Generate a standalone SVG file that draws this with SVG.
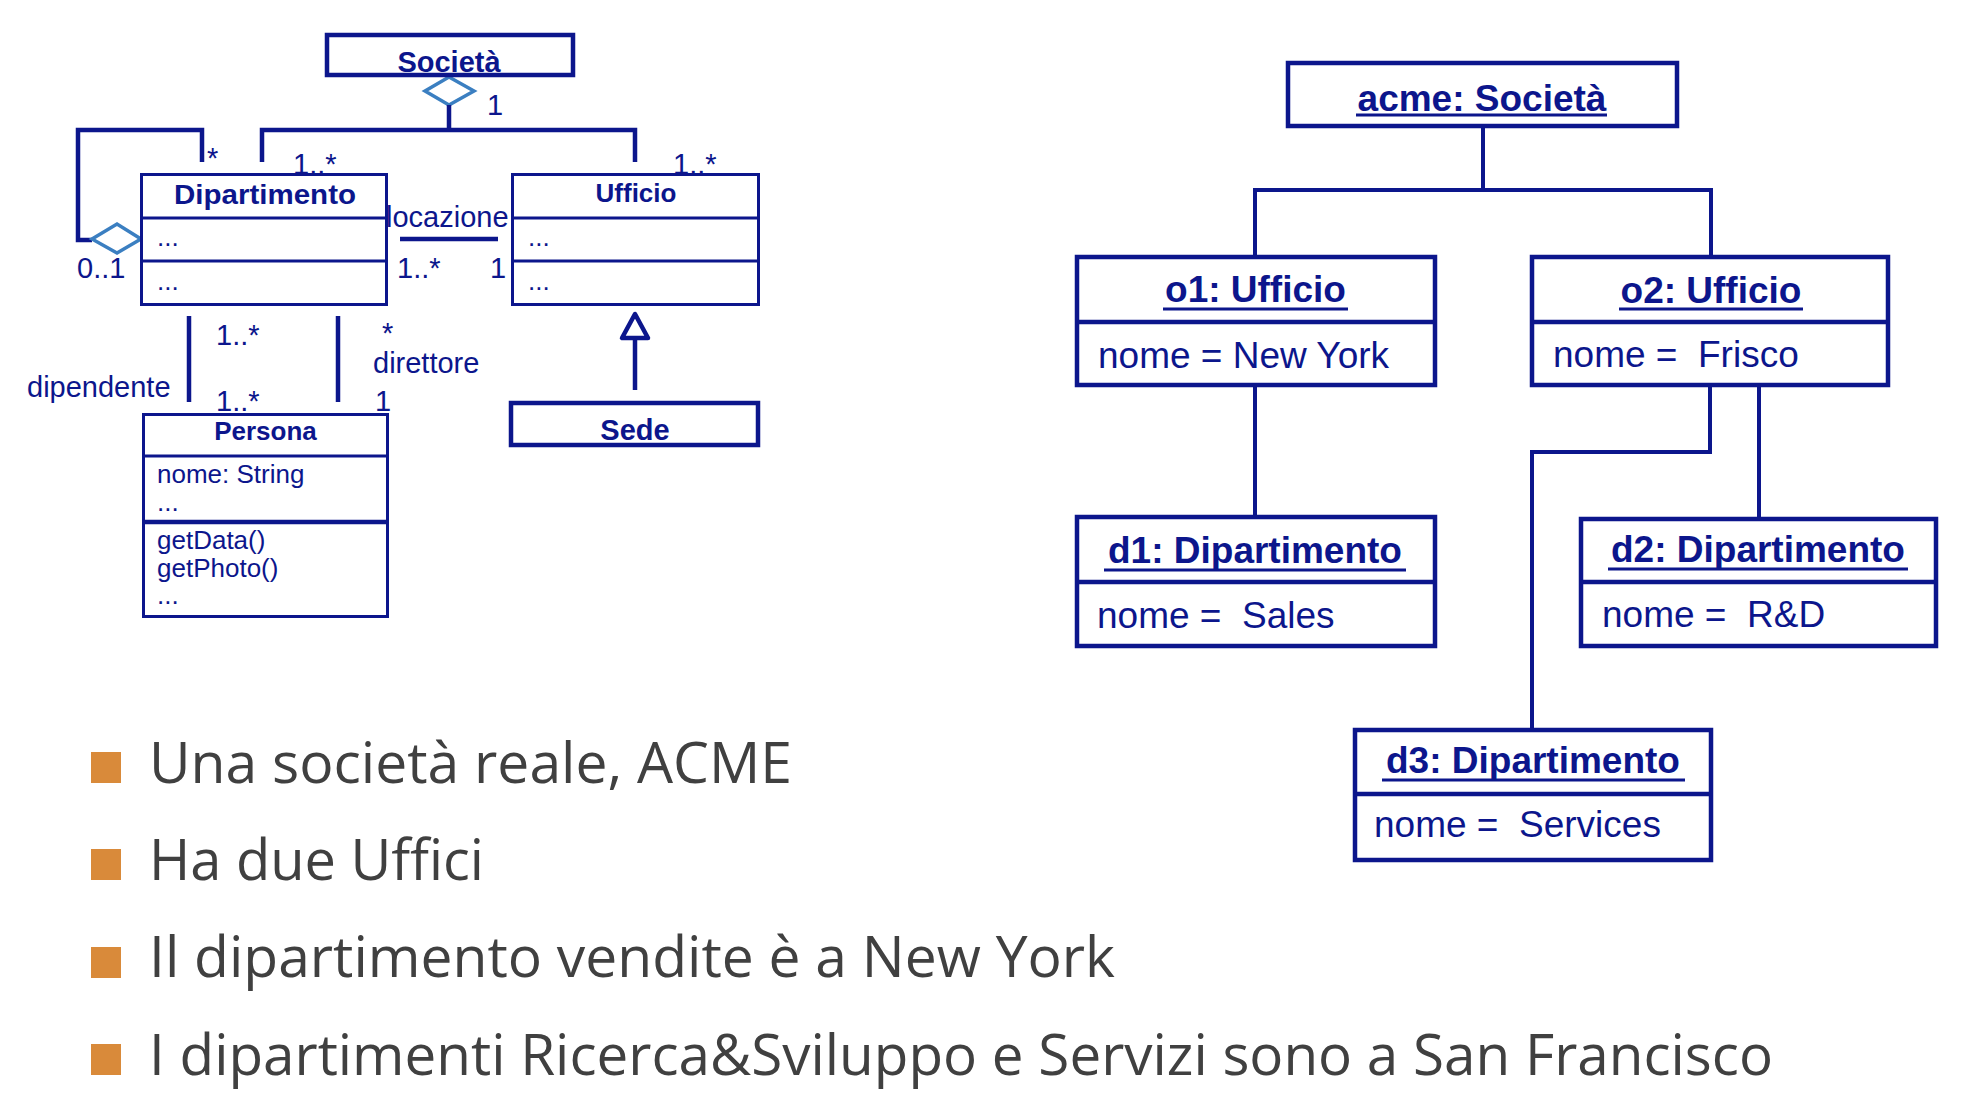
<svg xmlns="http://www.w3.org/2000/svg" width="1986" height="1110" viewBox="0 0 1986 1110">
<style>
.bx{fill:#fff;stroke:#0c168c;stroke-width:3}
.bxt{fill:#fff;stroke:#0c168c;stroke-width:4.5}
.sep{stroke:#0c168c;stroke-width:3}
.sept{stroke:#0c168c;stroke-width:4.5}
.ln{fill:none;stroke:#0c168c;stroke-width:4.5}
.ol{fill:none;stroke:#0c168c;stroke-width:4}
.dia{fill:#fff;stroke:#3b7fc1;stroke-width:3.5}
.ul{stroke:#0c168c;stroke-width:3}
text{font-family:"Liberation Sans",Arial,sans-serif;fill:#0c168c;white-space:pre}
.b{font-weight:bold}
.lab{font-size:29px}
.att{font-size:26px}
.ot{font-size:37px;font-weight:bold}
.oa{font-size:37px}
.bul{font-family:"Open Sans","Noto Sans",sans-serif;font-size:56px;fill:#404040}
.sq{fill:#d98a3a}
</style>

<!-- labels partially covered by boxes -->
<g id="labels-under">
<text class="lab" x="293" y="174">1..*</text>
<text class="lab" x="673" y="174">1..*</text>
<text class="lab" x="386" y="227">locazione</text>
<text class="lab" x="216" y="411">1..*</text>
<text class="lab" x="375" y="411">1</text>
</g>

<g id="connectors">
<!-- class diagram -->
<polygon class="dia" points="449,77 474,91 449,105 425,91"/>
<path class="ln" d="M449,105 V130 M262,162 V130 H635 V162"/>
<path class="ln" d="M202,162 V130 H78 V240 H92"/>
<polygon class="dia" points="92,239 117,224 141,239 117,253"/>
<line class="ln" x1="400" y1="239" x2="498" y2="239"/>
<line class="ln" x1="189" y1="316" x2="189" y2="402"/>
<line class="ln" x1="338" y1="316" x2="338" y2="402"/>
<line class="ln" x1="635" y1="390" x2="635" y2="338"/>
<polygon class="ln" points="635,314 622,338 648,338" style="fill:#fff;stroke-linejoin:round"/>
<!-- object diagram -->
<path class="ol" d="M1483,128 V190 M1255,255 V190 H1711 V255"/>
<line class="ol" x1="1255" y1="387" x2="1255" y2="515"/>
<path class="ol" d="M1710,387 V452 H1532 V728"/>
<line class="ol" x1="1759" y1="387" x2="1759" y2="517"/>
</g>

<g id="labels">
<text class="lab" x="487" y="115">1</text>
<text class="lab" x="207" y="168">*</text>
<text class="lab" x="77" y="278">0..1</text>
<text class="lab" x="397" y="278">1..*</text>
<text class="lab" x="490" y="278">1</text>
<text class="lab" x="216" y="345">1..*</text>
<text class="lab" x="27" y="397">dipendente</text>
<text class="lab" x="382" y="343">*</text>
<text class="lab" x="373" y="373">direttore</text>
</g>

<g id="societa">
<rect class="bxt" x="327" y="35" width="246" height="40"/>
<text class="b" x="449" y="72" font-size="29" text-anchor="middle">Società</text>
</g>

<g id="dipartimento">
<rect class="bx" x="141.5" y="174.5" width="245" height="130"/>
<line class="sep" x1="141.5" y1="218" x2="386.5" y2="218"/>
<line class="sep" x1="141.5" y1="261" x2="386.5" y2="261"/>
<text class="b" x="265" y="204" font-size="28" text-anchor="middle" textLength="182" lengthAdjust="spacingAndGlyphs">Dipartimento</text>
<text class="att" x="157" y="246">...</text>
<text class="att" x="157" y="290">...</text>
</g>

<g id="ufficio">
<rect class="bx" x="512.5" y="174.5" width="246" height="130"/>
<line class="sep" x1="512.5" y1="218" x2="758.5" y2="218"/>
<line class="sep" x1="512.5" y1="261" x2="758.5" y2="261"/>
<text class="b" x="636" y="202" font-size="26" text-anchor="middle">Ufficio</text>
<text class="att" x="528" y="246">...</text>
<text class="att" x="528" y="290">...</text>
</g>

<g id="sede">
<rect class="bxt" x="511" y="403" width="247" height="42"/>
<text class="b" x="635" y="440" font-size="29" text-anchor="middle">Sede</text>
</g>

<g id="persona">
<rect class="bx" x="143.5" y="414.5" width="244" height="202"/>
<line class="sep" x1="143.5" y1="456" x2="387.5" y2="456"/>
<line class="sept" x1="143.5" y1="522" x2="387.5" y2="522"/>
<text class="b" x="265.5" y="440" font-size="26" text-anchor="middle">Persona</text>
<text class="att" x="157" y="483">nome: String</text>
<text class="att" x="157" y="511">...</text>
<text class="att" x="157" y="549">getData()</text>
<text class="att" x="157" y="577">getPhoto()</text>
<text class="att" x="157" y="604">...</text>
</g>

<g id="acme">
<rect class="bxt" x="1288" y="63" width="389" height="63"/>
<text class="ot" x="1482" y="111" text-anchor="middle">acme: Società</text>
<line class="ul" x1="1356" y1="115" x2="1607" y2="115"/>
</g>

<g id="o1">
<rect class="bxt" x="1077" y="257" width="358" height="128"/>
<line class="sept" x1="1077" y1="322" x2="1435" y2="322"/>
<text class="ot" x="1255.5" y="302" text-anchor="middle">o1: Ufficio</text>
<line class="ul" x1="1163" y1="309" x2="1348" y2="309"/>
<text class="oa" x="1098" y="368">nome = New York</text>
</g>

<g id="o2">
<rect class="bxt" x="1532" y="257" width="356" height="128"/>
<line class="sept" x1="1532" y1="322" x2="1888" y2="322"/>
<text class="ot" x="1711" y="303" text-anchor="middle">o2: Ufficio</text>
<line class="ul" x1="1619" y1="309" x2="1803" y2="309"/>
<text class="oa" x="1553" y="367">nome =  Frisco</text>
</g>

<g id="d1">
<rect class="bxt" x="1077" y="517" width="358" height="129"/>
<line class="sept" x1="1077" y1="582" x2="1435" y2="582"/>
<text class="ot" x="1255" y="563" text-anchor="middle">d1: Dipartimento</text>
<line class="ul" x1="1104" y1="570" x2="1406" y2="570"/>
<text class="oa" x="1097" y="628">nome =  Sales</text>
</g>

<g id="d2">
<rect class="bxt" x="1581" y="519" width="355" height="127"/>
<line class="sept" x1="1581" y1="582" x2="1936" y2="582"/>
<text class="ot" x="1758" y="562" text-anchor="middle">d2: Dipartimento</text>
<line class="ul" x1="1608" y1="569" x2="1908" y2="569"/>
<text class="oa" x="1602" y="627">nome =  R&amp;D</text>
</g>

<g id="d3">
<rect class="bxt" x="1355" y="730" width="356" height="130"/>
<line class="sept" x1="1355" y1="794" x2="1711" y2="794"/>
<text class="ot" x="1533" y="773" text-anchor="middle">d3: Dipartimento</text>
<line class="ul" x1="1382" y1="780" x2="1685" y2="780"/>
<text class="oa" x="1374" y="837">nome =  Services</text>
</g>

<g id="bullets">
<rect class="sq" x="91" y="752" width="30" height="31"/>
<text class="bul" x="149" y="783" textLength="643" lengthAdjust="spacingAndGlyphs">Una società reale, ACME</text>
<rect class="sq" x="91" y="849" width="30" height="31"/>
<text class="bul" x="149" y="880" textLength="335" lengthAdjust="spacingAndGlyphs">Ha due Uffici</text>
<rect class="sq" x="91" y="947" width="30" height="31"/>
<text class="bul" x="149" y="977" textLength="966" lengthAdjust="spacingAndGlyphs">Il dipartimento vendite è a New York</text>
<rect class="sq" x="91" y="1044" width="30" height="31"/>
<text class="bul" x="149" y="1075" textLength="1624" lengthAdjust="spacingAndGlyphs">I dipartimenti Ricerca&amp;Sviluppo e Servizi sono a San Francisco</text>
</g>
</svg>
